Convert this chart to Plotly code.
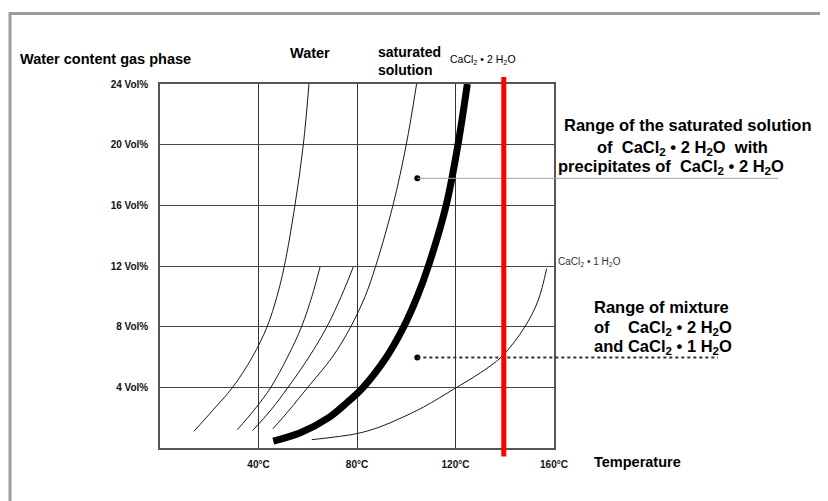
import plotly.graph_objects as go

# ---------------- data ----------------
# thin curves: temperature (°C) vs water content of gas phase (Vol%)
water_T = [13.8, 21.5, 29.5, 37.5, 43.5, 47.5, 50.5, 54.8, 58.2, 60.5]
water_V = [1.1, 2.5, 4.0, 6.0, 8.0, 10.0, 12.0, 16.0, 20.0, 24.0]

c2_T = [31.4, 38.2, 45.0, 51.8, 57.5, 61.7, 65.0]
c2_V = [1.21, 2.5, 4.0, 6.0, 8.0, 10.0, 11.94]

c3_T = [37.6, 45.0, 52.0, 60.5, 67.8, 73.6, 78.5]
c3_V = [1.15, 2.5, 4.0, 6.0, 8.0, 10.0, 11.94]

sat_T = [45.8, 52.5, 60.0, 70.0, 77.5, 83.3, 87.6, 94.6, 100.0, 104.2]
sat_V = [1.26, 2.5, 4.0, 6.0, 8.0, 10.0, 12.0, 16.0, 20.0, 24.0]

# thick curve: CaCl2 * 2 H2O
di_T = [46.0, 57.0, 68.5, 76.0, 82.5, 92.0, 99.0, 104.5, 109.0, 116.2, 121.0, 124.8]
di_V = [0.45, 1.0, 2.0, 3.0, 4.0, 6.0, 8.0, 10.0, 12.0, 16.0, 20.0, 24.0]

# CaCl2 * 1 H2O curve
mono_T = [61.6, 80.0, 89.3, 97.5, 107.0, 120.0, 130.0, 138.8, 148.2, 153.6, 157.0]
mono_V = [0.55, 0.95, 1.39, 1.95, 2.7, 3.95, 4.95, 6.03, 8.0, 9.75, 11.83]

# marker points pointing to the range labels
dot_T = [104.5, 104.5]
dot_V = [17.78, 5.96]
leader_end_T = [251.0, 226.6]

# red reference temperature
red_T = 139.6

x_ticks = [40, 80, 120, 160]
x_labels = ["40°C", "80°C", "120°C", "160°C"]
y_ticks = [4, 8, 12, 16, 20, 24]
y_labels = ["4 Vol%", "8 Vol%", "12 Vol%", "16 Vol%", "20 Vol%", "24 Vol%"]

X_RANGE = [0, 160]
Y_RANGE = [0, 24]

# ---------------- layout geometry (page pixels; page has 8px body margin) ----------------
OFF = 8
W, H = 828 - OFF, 501 - OFF
PL, PR, PT, PB = 160, 554, 84, 448.5


def px(xp):
    return (xp - PL) / (PR - PL)


def py(yp):
    return (PB - yp) / (PB - PT)


FONT = "Liberation Sans, Arial, sans-serif"
NARROW = "Liberation Sans Narrow, Liberation Sans, Arial, sans-serif"

fig = go.Figure()

thin = dict(color="#1a1a1a", width=1, shape="spline", smoothing=1.0)
for T, V in [(water_T, water_V), (c2_T, c2_V), (c3_T, c3_V), (sat_T, sat_V), (mono_T, mono_V)]:
    fig.add_trace(go.Scatter(x=T, y=V, mode="lines", line=thin, hoverinfo="skip", showlegend=False))

fig.add_trace(go.Scatter(x=di_T, y=di_V, mode="lines",
                         line=dict(color="black", width=7, shape="spline", smoothing=1.0),
                         hoverinfo="skip", showlegend=False))

fig.add_trace(go.Scatter(x=dot_T, y=dot_V, mode="markers",
                         marker=dict(color="black", size=6), hoverinfo="skip", showlegend=False))

shapes = []
# leader lines from the dots to the text blocks
shapes.append(dict(type="line", xref="paper", yref="y",
                   x0=dot_T[0] / X_RANGE[1], x1=leader_end_T[0] / X_RANGE[1],
                   y0=dot_V[0], y1=dot_V[0], line=dict(color="#a0a0a0", width=1)))
shapes.append(dict(type="line", xref="paper", yref="y",
                   x0=dot_T[1] / X_RANGE[1], x1=leader_end_T[1] / X_RANGE[1],
                   y0=dot_V[1], y1=dot_V[1], line=dict(color="#333333", width=2, dash="dot")))
# red line
shapes.append(dict(type="line", xref="x", yref="paper", x0=red_T, x1=red_T,
                   y0=py(457), y1=py(77), line=dict(color="#ff0000", width=5)))
# outer frame
shapes.append(dict(type="rect", xref="paper", yref="paper",
                   x0=px(10), x1=px(840), y0=py(13.5), y1=py(515),
                   line=dict(color="#9b9b9b", width=3), fillcolor="rgba(0,0,0,0)"))

ann = []


def add_text(text, xp, yp, size, anchor="left", family=FONT, color="black"):
    ann.append(dict(text=text, xref="paper", yref="paper", x=px(xp), y=py(yp),
                    xanchor=anchor, yanchor="middle", showarrow=False,
                    font=dict(family=family, size=size, color=color)))


cacl2 = "CaCl<sub>2</sub> • 2 H<sub>2</sub>O"
cacl1 = "CaCl<sub>2</sub> • 1 H<sub>2</sub>O"

add_text("<b>Water content gas phase</b>", 18, 59, 14.5)
add_text("<b>Water</b>", 288, 53, 14.5)
add_text("<b>saturated</b>", 376, 52, 14)
add_text("<b>solution</b>", 376, 70, 14)
add_text(cacl2, 448, 60, 10.5, family=NARROW)
add_text(cacl1, 556, 262, 10, family=NARROW, color="#333")
add_text("<b>Temperature</b>", 592, 463, 14.5)

add_text("<b>Range of the saturated solution</b>", 688, 125, 16.5, anchor="center")
add_text("<b>of  " + cacl2 + "  with</b>", 682, 148, 16.5, anchor="center")
add_text("<b>precipitates of  " + cacl2 + "</b>", 671, 167, 16.5, anchor="center")

add_text("<b>Range of mixture</b>", 592, 307, 16.5)
add_text("<b>of    " + cacl2 + "</b>", 592, 328, 16.5)
add_text("<b>and " + cacl1 + "</b>", 592, 347, 16.5)

fig.update_layout(
    width=W, height=H,
    margin=dict(l=PL - OFF, r=W - (PR - OFF), t=PT - OFF, b=H - (PB - OFF)),
    paper_bgcolor="white", plot_bgcolor="white",
    shapes=shapes, annotations=ann,
    showlegend=False,
    font=dict(family=FONT, color="black"),
)

fig.update_xaxes(range=X_RANGE, tickvals=x_ticks, ticktext=["<b>%s</b>" % t for t in x_labels],
                 showgrid=True, gridcolor="#333333", gridwidth=1,
                 showline=True, linecolor="#555555", linewidth=1.5, mirror=True,
                 ticks="", ticklabelstandoff=6, zeroline=False,
                 tickfont=dict(family=NARROW, size=10, color="#111"))
fig.update_yaxes(range=Y_RANGE, tickvals=y_ticks, ticktext=["<b>%s</b>" % t for t in y_labels],
                 showgrid=True, gridcolor="#444444", gridwidth=1,
                 showline=True, linecolor="#555555", linewidth=1.5, mirror=True,
                 ticks="", ticklabelstandoff=8, zeroline=False,
                 tickfont=dict(family=NARROW, size=10, color="#111"))

fig.write_html("out.html")
